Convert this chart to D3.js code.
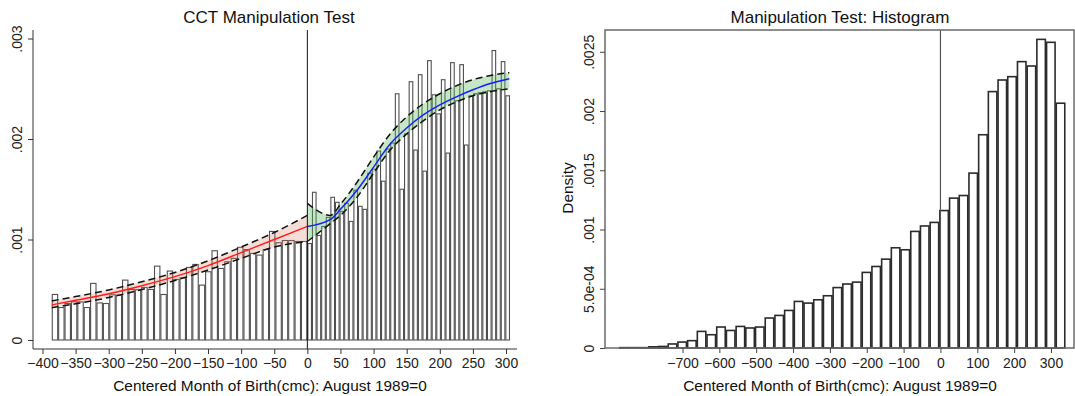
<!DOCTYPE html>
<html>
<head>
<meta charset="utf-8">
<script src="https://cdn.jsdelivr.net/npm/d3@7"></script>
<style>
  body { margin: 0; background: #fff; }
  svg { display: block; font-family: "Liberation Sans", Arial, sans-serif; }
  .tick text { fill: #222; }
</style>
</head>
<body>
<svg id="chart" width="1075" height="396"></svg>
<script>
// ---------- data: left panel (CCT manipulation test) ----------
const leftRange = [-386, 0];
const rightRange = [0, 306];
// histogram heights, left of cutoff (40 bins) and right of cutoff (44 bins)
const leftBars = [
  0.000453, 0.000323, 0.000363, 0.000380, 0.000379, 0.000323, 0.000563, 0.000369,
  0.000363, 0.000450, 0.000446, 0.000596, 0.000503, 0.000500, 0.000523, 0.000503,
  0.000735, 0.000453, 0.000686, 0.000603, 0.000619, 0.000722, 0.000752, 0.000546,
  0.000679, 0.000888, 0.000712, 0.000778, 0.000812, 0.000922, 0.000900, 0.000862,
  0.000845, 0.000900, 0.001080, 0.000968, 0.000990, 0.000990, 0.000980, 0.000980
];
const rightBars = [
  0.00096, 0.00147, 0.00104, 0.00113, 0.00122, 0.00142, 0.00137, 0.00128,
  0.00136, 0.00118, 0.00149, 0.00133, 0.00130, 0.00166, 0.00170, 0.00188,
  0.00158, 0.00190, 0.00196, 0.00245, 0.00150, 0.00205, 0.00257, 0.00189,
  0.00264, 0.00168, 0.00278, 0.00244, 0.00225, 0.00259, 0.00186, 0.00276,
  0.00238, 0.00274, 0.00194, 0.00243, 0.00245, 0.00246, 0.00247, 0.00248,
  0.00288, 0.00250, 0.00277, 0.00243
];
// local polynomial density estimate with confidence band
const fitLeftX  = [-386, -350, -300, -250, -200, -150, -100, -50, 0];
const fitLeftY  = [0.000350, 0.000395, 0.000460, 0.000540, 0.000630, 0.000740, 0.000870, 0.001000, 0.001130];
const fitLeftHi = [0.000390, 0.000432, 0.000498, 0.000580, 0.000672, 0.000788, 0.000925, 0.001070, 0.001240];
const fitLeftLo = [0.000322, 0.000360, 0.000423, 0.000502, 0.000592, 0.000696, 0.000812, 0.000925, 0.000980];
const fitRightX  = [0, 35, 50, 75, 100, 125, 150, 175, 200, 225, 250, 275, 305];
const fitRightY  = [0.00113, 0.00120, 0.00130, 0.00149, 0.00172, 0.00195, 0.00211, 0.00224, 0.00234, 0.00242, 0.00249, 0.00255, 0.00260];
const fitRightHi = [0.00136, 0.00124, 0.00135, 0.00157, 0.00182, 0.00205, 0.00222, 0.00235, 0.00245, 0.00253, 0.00259, 0.00263, 0.00266];
const fitRightLo = [0.00098, 0.00116, 0.00124, 0.00142, 0.00166, 0.00189, 0.00205, 0.00218, 0.00229, 0.00237, 0.00243, 0.00247, 0.00250];
const leftXTicks = [-400, -350, -300, -250, -200, -150, -100, -50, 0, 50, 100, 150, 200, 250, 300];
const leftYTicks = [0, 0.001, 0.002, 0.003];
const leftYLabels = ["0", ".001", ".002", ".003"];

// ---------- data: right panel (histogram) ----------
const histRange = [-872, 339];
const histDensity = [
  0.000003, 0.000003, 0.000003, 0.000010, 0.000013, 0.000034, 0.000050, 0.000062,
  0.000140, 0.000112, 0.000177, 0.000148, 0.000182, 0.000169, 0.000177, 0.000253,
  0.000275, 0.000317, 0.000393, 0.000379, 0.000407, 0.000441, 0.000510, 0.000540,
  0.000556, 0.000638, 0.000688, 0.000750, 0.000846, 0.000829, 0.000984, 0.001030,
  0.001060, 0.001160, 0.001265, 0.001287, 0.001476, 0.001800, 0.002164, 0.002262,
  0.002290, 0.002417, 0.002380, 0.002605, 0.002580, 0.002066
];
const histXTicks = [-700, -600, -500, -400, -300, -200, -100, 0, 100, 200, 300];
const histYTicks = [0, 0.0005, 0.001, 0.0015, 0.002, 0.0025];
const histYLabels = ["0", "5.0e-04", ".001", ".0015", ".002", ".0025"];

const xTitle = "Centered Month of Birth(cmc): August 1989=0";

const svg = d3.select("#chart");

// ===================== left panel =====================
const L = { left: 33, right: 517, top: 30, axisY: 349 };
const xL = d3.scaleLinear().domain([-400, 300]).range([42.5, 506]);
const yL = d3.scaleLinear().domain([0, 0.003]).range([340, 38.5]);

const gL = svg.append("g");

function drawBars(values, range, cls) {
  const w = (range[1] - range[0]) / values.length;
  gL.selectAll("rect." + cls)
    .data(values)
    .enter().append("rect")
      .attr("class", cls)
      .attr("x", (d, i) => xL(range[0] + i * w) + 0.5)
      .attr("width", (d, i) => xL(range[0] + (i + 1) * w) - xL(range[0] + i * w) - 1)
      .attr("y", d => yL(d))
      .attr("height", d => yL(0) - yL(d))
      .attr("fill", "#fff")
      .attr("stroke", "#505050")
      .attr("stroke-width", 1.1);
}
drawBars(leftBars, leftRange, "lb");
drawBars(rightBars, rightRange, "rb");

function band(xs, lo, hi, color) {
  const area = d3.area()
    .x((d, i) => xL(xs[i]))
    .y0((d, i) => yL(lo[i]))
    .y1((d, i) => yL(hi[i]))
    .curve(d3.curveMonotoneX);
  gL.append("path").attr("d", area(xs)).attr("fill", color);
  const line = arr => d3.line().x((d, i) => xL(xs[i])).y((d, i) => yL(arr[i])).curve(d3.curveMonotoneX)(xs);
  [lo, hi].forEach(arr => {
    gL.append("path").attr("d", line(arr))
      .attr("fill", "none").attr("stroke", "#111")
      .attr("stroke-width", 1.5).attr("stroke-dasharray", "7,4");
  });
}
band(fitLeftX, fitLeftLo, fitLeftHi, "rgba(215,120,95,0.25)");
band(fitRightX, fitRightLo, fitRightHi, "rgba(90,185,90,0.35)");

function fit(xs, ys, color) {
  gL.append("path")
    .attr("d", d3.line().x((d, i) => xL(xs[i])).y((d, i) => yL(ys[i])).curve(d3.curveMonotoneX)(xs))
    .attr("fill", "none").attr("stroke", color).attr("stroke-width", 1.4);
}
fit(fitLeftX, fitLeftY, "#ff1a1a");
fit(fitRightX, fitRightY, "#1a1aff");

// cutoff line
gL.append("line")
  .attr("x1", xL(0)).attr("x2", xL(0))
  .attr("y1", L.top).attr("y2", L.axisY)
  .attr("stroke", "#111").attr("stroke-width", 1);

// axes
const axL = gL.append("g")
  .attr("transform", `translate(0,${L.axisY})`)
  .call(d3.axisBottom(xL).tickValues(leftXTicks).tickSize(5).tickPadding(4).tickFormat(d3.format("d")));
axL.select(".domain").attr("d", `M${L.left},0H${L.right}`).attr("stroke", "#333");
axL.selectAll(".tick line").attr("stroke", "#333");
axL.selectAll(".tick text").style("font-size", "14px");

const ayL = gL.append("g")
  .attr("transform", `translate(${L.left},0)`)
  .call(d3.axisLeft(yL).tickValues(leftYTicks).tickSize(5).tickFormat((d, i) => leftYLabels[i]));
ayL.select(".domain").attr("d", `M0,${L.top}V${L.axisY}`).attr("stroke", "#333");
ayL.selectAll(".tick line").attr("stroke", "#333");
ayL.selectAll(".tick text")
  .style("font-size", "14px")
  .attr("x", null).attr("dy", null)
  .attr("text-anchor", "middle")
  .attr("transform", "translate(-11,0) rotate(-90)");

gL.append("text").attr("x", 269).attr("y", 23).attr("text-anchor", "middle")
  .style("font-size", "17px").attr("fill", "#111").text("CCT Manipulation Test");
gL.append("text").attr("x", 270).attr("y", 391).attr("text-anchor", "middle")
  .style("font-size", "15.4px").attr("fill", "#111").text(xTitle);

// ===================== right panel =====================
const R = { left: 605, right: 1074, top: 30, bottom: 348 };
const xR = d3.scaleLinear().domain([-700, 300]).range([682.5, 1051]);
const yR = d3.scaleLinear().domain([0, 0.0025]).range([R.bottom, 51.8]);
const gR = svg.append("g");

const hw = (histRange[1] - histRange[0]) / histDensity.length;
gR.selectAll("rect.hb")
  .data(histDensity)
  .enter().append("rect")
    .attr("class", "hb")
    .attr("x", (d, i) => xR(histRange[0] + i * hw) + 0.6)
    .attr("width", (d, i) => xR(histRange[0] + (i + 1) * hw) - xR(histRange[0] + i * hw) - 1.2)
    .attr("y", d => yR(d))
    .attr("height", d => yR(0) - yR(d))
    .attr("fill", "#fff")
    .attr("stroke", "#2b2b2b")
    .attr("stroke-width", 1.6);

gR.append("line")
  .attr("x1", xR(0)).attr("x2", xR(0))
  .attr("y1", R.top).attr("y2", R.bottom)
  .attr("stroke", "#555").attr("stroke-width", 1.2);

gR.append("rect")
  .attr("x", R.left).attr("y", R.top)
  .attr("width", R.right - R.left).attr("height", R.bottom - R.top)
  .attr("fill", "none").attr("stroke", "#6a6a6a").attr("stroke-width", 1.5);

const axR = gR.append("g")
  .attr("transform", `translate(0,${R.bottom})`)
  .call(d3.axisBottom(xR).tickValues(histXTicks).tickSize(5).tickPadding(5).tickFormat(d3.format("d")));
axR.select(".domain").remove();
axR.selectAll(".tick line").attr("stroke", "#444");
axR.selectAll(".tick text").style("font-size", "14px");

const ayR = gR.append("g")
  .attr("transform", `translate(${R.left},0)`)
  .call(d3.axisLeft(yR).tickValues(histYTicks).tickSize(5).tickFormat((d, i) => histYLabels[i]));
ayR.select(".domain").remove();
ayR.selectAll(".tick line").attr("stroke", "#444");
ayR.selectAll(".tick text")
  .style("font-size", "14px")
  .attr("x", null).attr("dy", null)
  .attr("text-anchor", "middle")
  .attr("transform", "translate(-11,0) rotate(-90)");

gR.append("text").attr("transform", "translate(573,188) rotate(-90)").attr("text-anchor", "middle")
  .style("font-size", "15.4px").attr("fill", "#111").text("Density");
gR.append("text").attr("x", 840).attr("y", 23).attr("text-anchor", "middle")
  .style("font-size", "17px").attr("fill", "#111").text("Manipulation Test: Histogram");
gR.append("text").attr("x", 840).attr("y", 391).attr("text-anchor", "middle")
  .style("font-size", "15.4px").attr("fill", "#111").text(xTitle);
</script>
</body>
</html>
